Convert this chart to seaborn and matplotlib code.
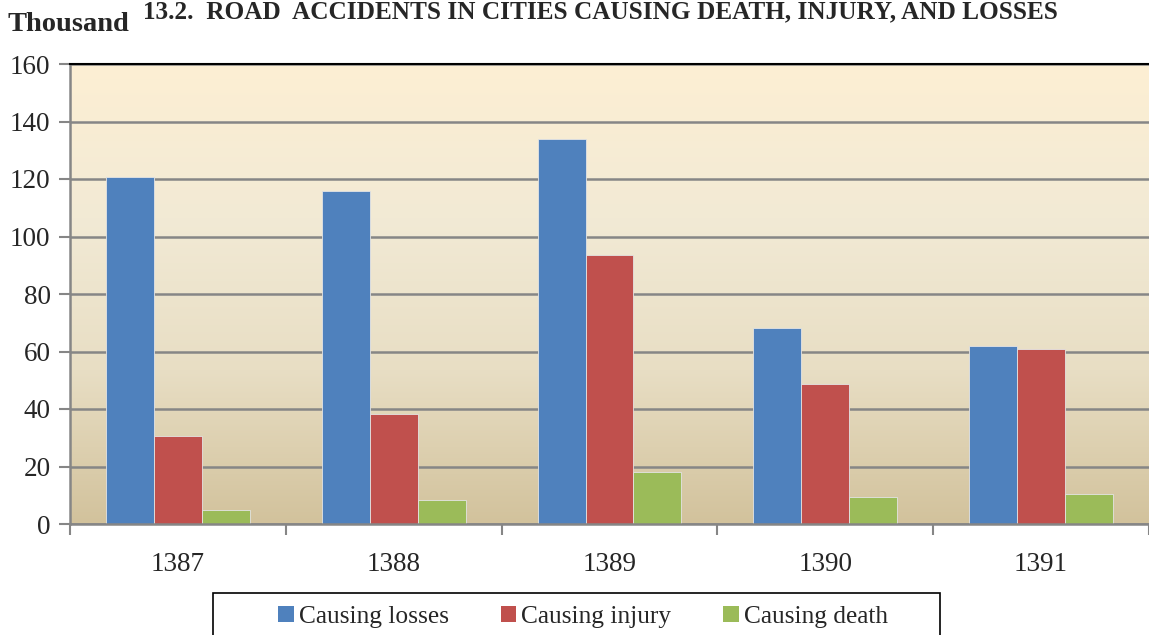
import numpy as np
import pandas as pd
import matplotlib.pyplot as plt
import seaborn as sns
from matplotlib.colors import LinearSegmentedColormap
from matplotlib.patches import Patch, Rectangle

# values (thousand accidents)
years = ["1387", "1388", "1389", "1390", "1391"]
causing_losses = [120.8, 115.9, 133.9, 68.3, 61.8]
causing_injury = [30.7, 38.3, 93.7, 48.6, 60.7]
causing_death = [4.9, 8.3, 18.1, 9.3, 10.4]
series = ["Causing losses", "Causing injury", "Causing death"]
colors = ["#4F81BD", "#C0504D", "#9BBB59"]

df = pd.DataFrame({
    "Year": years * 3,
    "Type": [series[0]] * 5 + [series[1]] * 5 + [series[2]] * 5,
    "Value": causing_losses + causing_injury + causing_death,
})

sns.set_style("white")
plt.rcParams["font.family"] = ["Liberation Serif", "DejaVu Serif"]

fig = plt.figure(figsize=(11.49, 6.35), dpi=100)
ax = fig.add_axes([70 / 1149, 1 - 524 / 635, 1 - 70 / 1149, 460 / 635])

# gradient background (cream at top to tan at bottom)
cmap = LinearSegmentedColormap.from_list("bg", ["#D2C29C", "#E8DEC4", "#F2EAD5", "#FDEFD3"])
grad = np.linspace(0, 1, 256).reshape(-1, 1)
ax.imshow(grad, aspect="auto", cmap=cmap, origin="lower",
          extent=(-0.5, 4.5, 0, 160), zorder=0)

sns.barplot(data=df, x="Year", y="Value", hue="Type", palette=colors,
            saturation=1, width=0.667, linewidth=0.6, edgecolor="#e4e4e4",
            ax=ax, legend=False, zorder=2)

ax.set_xlim(-0.5, 4.5)
ax.set_ylim(0, 160)
ax.set_yticks(range(0, 161, 20))
ax.yaxis.grid(True, color="#868686", linewidth=1.8, zorder=1)
ax.set_axisbelow(True)
ax.set_xlabel("")
ax.set_ylabel("")

for s in ["left", "bottom"]:
    ax.spines[s].set_color("#868686")
    ax.spines[s].set_linewidth(1.8)
ax.spines["top"].set_color("black")
ax.spines["top"].set_linewidth(1.5)
ax.spines["right"].set_visible(False)

ax.tick_params(axis="y", direction="out", length=8, width=1.5, color="#868686",
               labelsize=19.5, pad=6, left=True)
ax.tick_params(axis="x", which="major", length=0, labelsize=19.5, pad=20)
ax.set_xticks(np.arange(-0.5, 4.6, 1), minor=True)
ax.tick_params(axis="x", which="minor", direction="out", length=8, width=1.5,
               color="#868686", bottom=True)

fig.text(8 / 1149, 1 - 31 / 635, "Thousand", fontsize=20.5, fontweight="bold")
fig.text(143 / 1149, 1 - 18 / 635,
         "13.2.  ROAD  ACCIDENTS IN CITIES CAUSING DEATH, INJURY, AND LOSSES",
         fontsize=18.2, fontweight="bold")

handles = [Patch(facecolor=c, edgecolor="none") for c in colors]
leg = fig.legend(handles, series, loc="center", ncol=3,
                 bbox_to_anchor=(583 / 1149, 1 - 617 / 635),
                 frameon=False, fontsize=18.3, handlelength=0.6,
                 handleheight=0.6, handletextpad=0.2, columnspacing=2.05)

# legend frame, running off the bottom of the picture like the reference
fig.patches.append(Rectangle((213 / 1149, -0.05), 727 / 1149, 0.05 + 42 / 635,
                             transform=fig.transFigure, fill=False,
                             edgecolor="black", linewidth=1.2))

plt.savefig("out.png", dpi=100)
